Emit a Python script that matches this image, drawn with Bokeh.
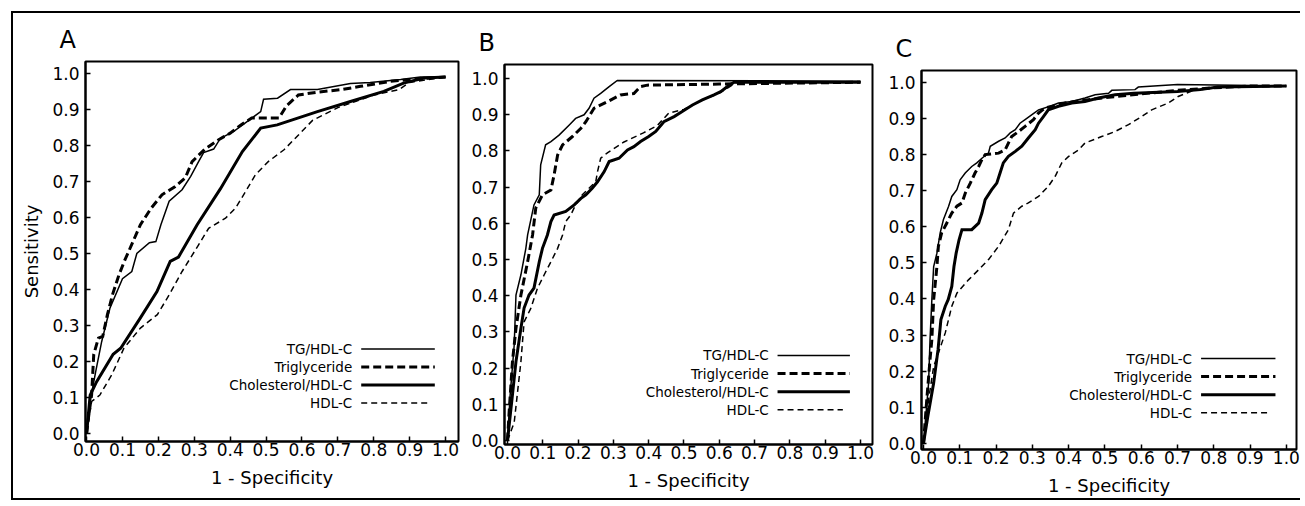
from bokeh.plotting import figure
from bokeh.layouts import row
from bokeh.models import FixedTicker, PrintfTickFormatter, Range1d, Label
from bokeh.embed import file_html
from bokeh.resources import INLINE

# ---------------- data ----------------
TICKS = [0.0, 0.1, 0.2, 0.3, 0.4, 0.5, 0.6, 0.7, 0.8, 0.9, 1.0]
SERIES = ["TG/HDL-C", "Triglyceride", "Cholesterol/HDL-C", "HDL-C"]
PANELS = ["A", "B", "C"]

# Panel A
A_tg_x = [0, 0.01, 0.025, 0.042, 0.065, 0.10, 0.126, 0.14, 0.175, 0.193, 0.207, 0.23, 0.266, 0.29, 0.312,
          0.326, 0.354, 0.373, 0.41, 0.448, 0.485, 0.493, 0.532, 0.568, 0.643, 0.735, 0.79, 0.875, 0.93, 1.0]
A_tg_y = [0, 0.09, 0.17, 0.255, 0.348, 0.43, 0.45, 0.50, 0.53, 0.533, 0.58, 0.645, 0.677, 0.714, 0.755,
          0.78, 0.79, 0.82, 0.839, 0.867, 0.894, 0.928, 0.931, 0.955, 0.955, 0.972, 0.975, 0.983, 0.99, 0.99]
A_trig_x = [0, 0.006, 0.014, 0.02, 0.033, 0.045, 0.058, 0.072, 0.09, 0.105, 0.128, 0.15, 0.18, 0.21, 0.247,
            0.275, 0.294, 0.33, 0.368, 0.40, 0.43, 0.46, 0.536, 0.557, 0.59, 0.643, 0.71, 0.763, 0.847, 0.90, 1.0]
A_trig_y = [0, 0.05, 0.107, 0.22, 0.265, 0.27, 0.33, 0.385, 0.44, 0.478, 0.53, 0.58, 0.626, 0.663, 0.686,
            0.71, 0.755, 0.79, 0.816, 0.834, 0.857, 0.876, 0.876, 0.91, 0.94, 0.948, 0.955, 0.964, 0.978, 0.983, 0.99]
A_chol_x = [0, 0.01, 0.028, 0.074, 0.095, 0.149, 0.196, 0.233, 0.256, 0.308, 0.373, 0.434, 0.485, 0.531,
            0.643, 0.735, 0.828, 0.883, 0.94, 1.0]
A_chol_y = [0, 0.107, 0.144, 0.22, 0.237, 0.32, 0.394, 0.478, 0.49, 0.58, 0.68, 0.783, 0.848, 0.857,
            0.894, 0.922, 0.95, 0.973, 0.987, 0.99]
A_hdl_x = [0, 0.014, 0.037, 0.07, 0.104, 0.15, 0.197, 0.23, 0.266, 0.312, 0.34, 0.387, 0.415, 0.443, 0.47,
           0.506, 0.55, 0.596, 0.63, 0.70, 0.80, 0.87, 0.9, 1.0]
A_hdl_y = [0, 0.089, 0.107, 0.163, 0.237, 0.293, 0.33, 0.385, 0.45, 0.524, 0.57, 0.598, 0.626, 0.672, 0.718,
           0.755, 0.788, 0.835, 0.87, 0.905, 0.94, 0.955, 0.975, 0.99]

# Panel B
B_tg_x = [0, 0.0075, 0.019, 0.024, 0.038, 0.052, 0.057, 0.075, 0.09, 0.094, 0.108, 0.123, 0.146, 0.175, 0.193,
          0.217, 0.231, 0.245, 0.264, 0.288, 0.311, 1.0]
B_tg_y = [0, 0.126, 0.264, 0.402, 0.458, 0.531, 0.568, 0.651, 0.679, 0.762, 0.817, 0.826, 0.844, 0.872, 0.89,
          0.90, 0.918, 0.946, 0.959, 0.978, 0.995, 0.993]
B_trig_x = [0, 0.0047, 0.014, 0.024, 0.038, 0.057, 0.071, 0.08, 0.099, 0.123, 0.132, 0.142, 0.156, 0.184, 0.208,
            0.222, 0.245, 0.283, 0.32, 0.358, 0.377, 0.396, 0.6, 1.0]
B_trig_y = [0, 0.08, 0.218, 0.31, 0.402, 0.494, 0.568, 0.642, 0.679, 0.692, 0.734, 0.789, 0.817, 0.84, 0.863,
            0.881, 0.918, 0.936, 0.955, 0.959, 0.978, 0.982, 0.985, 0.99]
B_chol_x = [0, 0.014, 0.024, 0.038, 0.047, 0.061, 0.075, 0.09, 0.099, 0.113, 0.123, 0.132, 0.165, 0.189, 0.208,
            0.222, 0.24, 0.255, 0.274, 0.288, 0.316, 0.34, 0.358, 0.377, 0.40, 0.42, 0.443, 0.472, 0.495, 0.524,
            0.552, 0.585, 0.604, 0.623, 0.642, 1.0]
B_chol_y = [0, 0.126, 0.218, 0.31, 0.366, 0.402, 0.421, 0.494, 0.531, 0.568, 0.605, 0.623, 0.633, 0.651, 0.669,
            0.679, 0.697, 0.715, 0.743, 0.771, 0.78, 0.803, 0.812, 0.826, 0.84, 0.854, 0.881, 0.895, 0.909, 0.927,
            0.941, 0.955, 0.964, 0.978, 0.99, 0.99]
B_hdl_x = [0, 0.019, 0.038, 0.047, 0.066, 0.085, 0.104, 0.123, 0.142, 0.156, 0.165, 0.179, 0.193, 0.212, 0.231,
           0.25, 0.255, 0.264, 0.283, 0.33, 0.385, 0.424, 0.457, 0.50, 0.55, 0.60, 0.65, 1.0]
B_hdl_y = [0, 0.05, 0.218, 0.328, 0.365, 0.421, 0.458, 0.494, 0.531, 0.568, 0.605, 0.623, 0.651, 0.679, 0.697,
           0.715, 0.743, 0.78, 0.795, 0.825, 0.85, 0.87, 0.905, 0.915, 0.94, 0.96, 0.99, 0.99]

# Panel C
C_tg_x = [0, 0.014, 0.018, 0.023, 0.028, 0.037, 0.046, 0.055, 0.069, 0.078, 0.092, 0.101, 0.115, 0.133, 0.147,
          0.161, 0.179, 0.184, 0.207, 0.225, 0.239, 0.253, 0.266, 0.28, 0.298, 0.317, 0.349, 0.372, 0.409, 0.445,
          0.473, 0.51, 0.519, 0.583, 0.592, 0.70, 1.0]
C_tg_y = [0, 0.167, 0.287, 0.398, 0.49, 0.527, 0.583, 0.62, 0.656, 0.684, 0.703, 0.73, 0.749, 0.767, 0.777,
          0.79, 0.804, 0.823, 0.837, 0.846, 0.86, 0.869, 0.887, 0.897, 0.91, 0.924, 0.934, 0.943, 0.947, 0.957,
          0.966, 0.97, 0.978, 0.98, 0.987, 0.994, 0.99]
C_trig_x = [0, 0.009, 0.018, 0.023, 0.028, 0.037, 0.041, 0.05, 0.064, 0.078, 0.092, 0.106, 0.115, 0.129, 0.142,
            0.152, 0.161, 0.17, 0.207, 0.225, 0.234, 0.243, 0.262, 0.28, 0.303, 0.317, 0.335, 0.40, 0.50, 0.60,
            0.70, 0.80, 0.90, 1.0]
C_trig_y = [0, 0.121, 0.232, 0.287, 0.398, 0.49, 0.546, 0.583, 0.61, 0.638, 0.657, 0.666, 0.693, 0.721, 0.749,
            0.767, 0.786, 0.80, 0.804, 0.813, 0.832, 0.85, 0.864, 0.878, 0.897, 0.915, 0.929, 0.945, 0.958, 0.968,
            0.978, 0.985, 0.99, 0.99]
C_chol_x = [0, 0.012, 0.028, 0.04, 0.048, 0.06, 0.068, 0.078, 0.084, 0.09, 0.098, 0.106, 0.133, 0.152, 0.161,
            0.17, 0.188, 0.202, 0.211, 0.22, 0.234, 0.253, 0.271, 0.289, 0.308, 0.317, 0.331, 0.344, 0.372, 0.409,
            0.445, 0.482, 0.528, 0.58, 0.70, 0.763, 0.81, 1.0]
C_chol_y = [0, 0.075, 0.167, 0.259, 0.343, 0.38, 0.398, 0.435, 0.49, 0.527, 0.564, 0.592, 0.592, 0.61, 0.638,
            0.675, 0.703, 0.721, 0.749, 0.777, 0.795, 0.809, 0.823, 0.846, 0.869, 0.887, 0.906, 0.924, 0.934, 0.943,
            0.947, 0.957, 0.966, 0.97, 0.975, 0.98, 0.987, 0.99]
C_hdl_x = [0, 0.014, 0.028, 0.041, 0.06, 0.078, 0.092, 0.124, 0.152, 0.179, 0.207, 0.234, 0.248, 0.271, 0.289,
           0.317, 0.344, 0.363, 0.381, 0.40, 0.427, 0.445, 0.491, 0.528, 0.565, 0.602, 0.629, 0.675, 0.702, 0.736,
           0.75, 0.85, 1.0]
C_hdl_y = [0, 0.121, 0.213, 0.25, 0.306, 0.38, 0.416, 0.453, 0.481, 0.509, 0.546, 0.592, 0.638, 0.657, 0.666,
           0.684, 0.712, 0.74, 0.777, 0.795, 0.813, 0.832, 0.85, 0.864, 0.883, 0.906, 0.924, 0.943, 0.961, 0.975,
           0.98, 0.988, 0.99]

DATA = {
    "A": [(A_tg_x, A_tg_y), (A_trig_x, A_trig_y), (A_chol_x, A_chol_y), (A_hdl_x, A_hdl_y)],
    "B": [(B_tg_x, B_tg_y), (B_trig_x, B_trig_y), (B_chol_x, B_chol_y), (B_hdl_x, B_hdl_y)],
    "C": [(C_tg_x, C_tg_y), (C_trig_x, C_trig_y), (C_chol_x, C_chol_y), (C_hdl_x, C_hdl_y)],
}

# ---------------- styles / layout ----------------
FONT = "DejaVu Sans"
LINE_STYLE = [
    dict(line_width=1.5, line_dash="solid"),
    dict(line_width=3.0, line_dash="8 4"),
    dict(line_width=3.0, line_dash="solid"),
    dict(line_width=1.5, line_dash="6 4"),
]
LEG_TEXT_X = 0.74
LEG_LINE_X0 = 0.765
LEG_LINE_X1 = [0.97, 0.97, 0.97, 0.95]
LEG_ROWS_Y = [0.235, 0.185, 0.135, 0.085]

GEOM = {
    "A": dict(fw=373, fh=380, left=72, shift=0, right=8, bottom=57, xr=(-0.003, 1.036), yr=(-0.022, 1.033)),
    "B": dict(fw=368, fh=380, left=38, shift=3, right=8, bottom=54, xr=(-0.0085, 1.034), yr=(-0.011, 1.039)),
    "C": dict(fw=375, fh=379, left=41, shift=9, right=4, bottom=49, xr=(-0.0055, 1.028), yr=(-0.017, 1.033)),
}
TOP_BORDER = 48


def make_panel(name, ylabel):
    g = GEOM[name]
    p = figure(frame_width=g["fw"], frame_height=g["fh"],
               min_border_left=g["left"], min_border_top=TOP_BORDER,
               min_border_right=g["right"], min_border_bottom=g["bottom"],
               x_range=Range1d(*g["xr"]), y_range=Range1d(*g["yr"]),
               output_backend="svg", toolbar_location=None, title=name,
               styles={"margin-top": "%dpx" % g["shift"]})
    p.title.text_font = FONT
    p.title.text_font_size = "24px"
    p.title.text_font_style = "normal"
    p.title.text_color = "black"
    p.title.align = "left"
    p.title.offset = -26
    p.title.standoff = 16
    p.grid.visible = False
    p.outline_line_color = "black"
    p.outline_line_width = 2
    p.background_fill_color = "white"
    p.border_fill_color = "white"

    for ax in (p.xaxis[0], p.yaxis[0]):
        ax.ticker = FixedTicker(ticks=TICKS)
        ax.formatter = PrintfTickFormatter(format="%.1f")
        ax.major_tick_in = 5
        ax.major_tick_out = 0
        ax.minor_tick_in = 0
        ax.minor_tick_out = 0
        ax.major_tick_line_width = 1.5
        ax.major_tick_line_color = "black"
        ax.axis_line_width = 2
        ax.axis_line_color = "black"
        ax.major_label_text_font = FONT
        ax.major_label_text_font_size = "17px"
        ax.major_label_text_color = "black"
        ax.axis_label_text_font = FONT
        ax.axis_label_text_font_size = "18px"
        ax.axis_label_text_font_style = "normal"
        ax.axis_label_text_color = "black"
    p.xaxis.axis_label = "1 - Specificity"
    p.xaxis.major_label_standoff = 1
    p.xaxis.axis_label_standoff = 8
    p.yaxis.major_label_standoff = 6
    if ylabel:
        p.yaxis.axis_label = "Sensitivity"
        p.yaxis.axis_label_standoff = 7

    for (xs, ys), st in zip(DATA[name], LINE_STYLE):
        p.line(xs, ys, line_color="black", line_join="miter", **st)

    for i, lab in enumerate(SERIES):
        yy = LEG_ROWS_Y[i]
        p.add_layout(Label(x=LEG_TEXT_X, y=yy, text=lab, text_align="right", text_baseline="middle",
                           text_font=FONT, text_font_size="13.5px", text_color="black"))
        p.line([LEG_LINE_X0, LEG_LINE_X1[i]], [yy, yy], line_color="black", **LINE_STYLE[i])
    return p


pa = make_panel("A", True)
pb = make_panel("B", False)
pc = make_panel("C", False)

layout = row(pa, pb, pc, styles={"margin-left": "11px", "margin-top": "11px",
                                 "border-top": "2px solid black", "border-left": "2px solid black",
                                 "border-bottom": "2px solid black"})

open("out.html", "w").write(file_html(layout, INLINE))
